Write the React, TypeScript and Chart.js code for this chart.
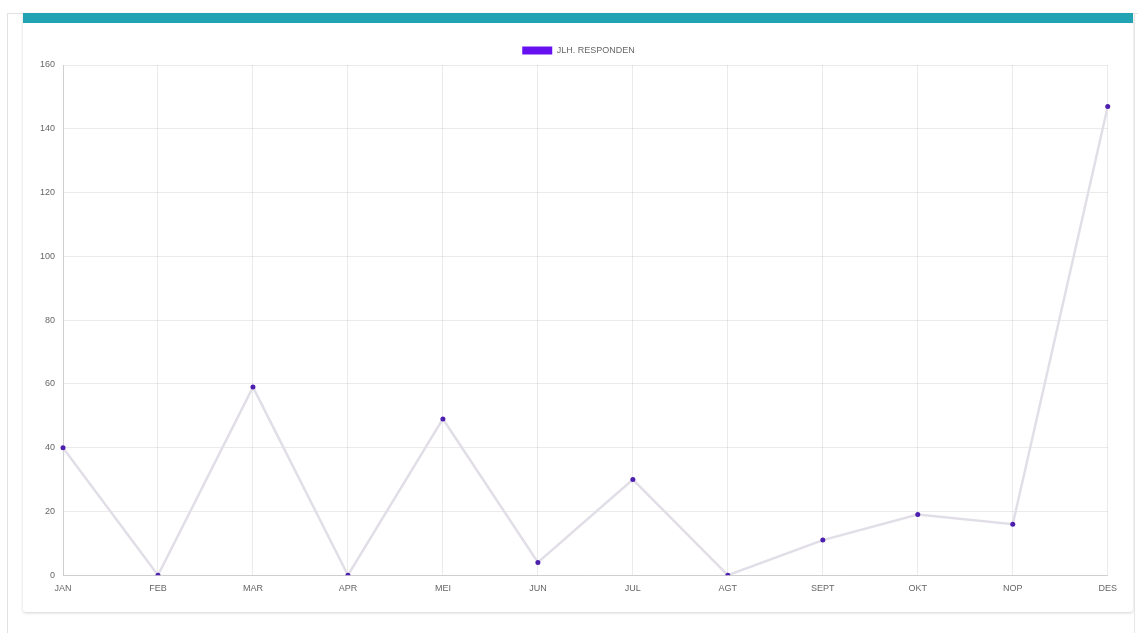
import React, { useEffect, useRef } from "react";
import { Chart, registerables } from "chart.js";

Chart.register(...registerables);

const months = ["JAN", "FEB", "MAR", "APR", "MEI", "JUN", "JUL", "AGT", "SEPT", "OKT", "NOP", "DES"];
const respondents = [40, 0, 59, 0, 49, 4, 30, 0, 11, 19, 16, 147];
const seriesLabel = "JLH. RESPONDEN";
const yMin = 0;
const yMax = 160;
const yStep = 20;

const LEGEND_COLOR = "#6610f2";

export default function App() {
  const ref = useRef<HTMLCanvasElement | null>(null);
  useEffect(() => {
    document.body.style.overflow = "hidden";
    if (!ref.current) return;
    const font = { family: "'Liberation Sans', Arial, sans-serif", size: 9 };
    const chart = new Chart(ref.current, {
      type: "line",
      data: {
        labels: months,
        datasets: [
          {
            label: seriesLabel,
            data: respondents,
            backgroundColor: LEGEND_COLOR,
            borderColor: "rgba(226, 222, 231, 1)",
            borderWidth: 2.5,
            fill: false,
            tension: 0,
            pointRadius: 2.5,
            pointBackgroundColor: "#4c1fae",
            pointBorderColor: "#4c1fae",
            pointBorderWidth: 0,
          },
        ],
      },
      options: {
        animation: false,
        responsive: false,
        maintainAspectRatio: false,
        layout: { padding: { left: 0, right: 0, top: 0, bottom: 0 } },
        plugins: {
          legend: {
            display: true,
            position: "top",
            labels: {
              boxWidth: 30,
              boxHeight: 8,
              color: "#666",
              font,
              padding: 5,
              generateLabels: (c: any) =>
                Chart.defaults.plugins.legend.labels.generateLabels(c).map((l: any) => ({
                  ...l,
                  strokeStyle: LEGEND_COLOR,
                  fillStyle: LEGEND_COLOR,
                  lineWidth: 0,
                })),
            },
          },
          tooltip: { enabled: false },
        },
        scales: {
          x: {
            grid: { color: "rgba(0,0,0,0.08)", drawTicks: false },
            border: { color: "rgba(0,0,0,0.12)" },
            ticks: { color: "#666", font, padding: 8, maxRotation: 0, autoSkip: false },
          },
          y: {
            min: yMin,
            max: yMax,
            grid: { color: "rgba(0,0,0,0.08)", drawTicks: false },
            border: { color: "rgba(0,0,0,0.12)" },
            ticks: { color: "#666", font, stepSize: yStep, padding: 8 },
          },
        },
      },
    });
    return () => chart.destroy();
  }, []);

  return (
    <div
      style={{
        position: "fixed",
        left: 0,
        top: 0,
        width: 1138,
        height: 633,
        overflow: "hidden",
        background: "#fff",
      }}
    >
      <div
        style={{
          position: "absolute",
          left: 7,
          top: 13,
          width: 1140,
          height: 700,
          borderLeft: "1px solid #e2e2e2",
          borderTop: "1px solid #e2e2e2",
        }}
      />
      <div
        style={{
          position: "absolute",
          left: 23,
          top: 13,
          width: 1110,
          height: 599,
          borderRadius: 3,
          boxShadow: "0 1px 3px rgba(0,0,0,0.18)",
          background: "#fff",
        }}
      />
      <div
        style={{
          position: "absolute",
          left: 1134,
          top: 13,
          width: 1,
          height: 640,
          background: "#e6e6e6",
        }}
      />
      <div style={{ position: "absolute", left: 23, top: 13, width: 1110, height: 10, background: "#22a3b3" }} />
      <canvas
        ref={ref}
        width={1093}
        height={561}
        style={{ position: "absolute", left: 32, top: 41, width: 1093, height: 561 }}
      />
    </div>
  );
}
